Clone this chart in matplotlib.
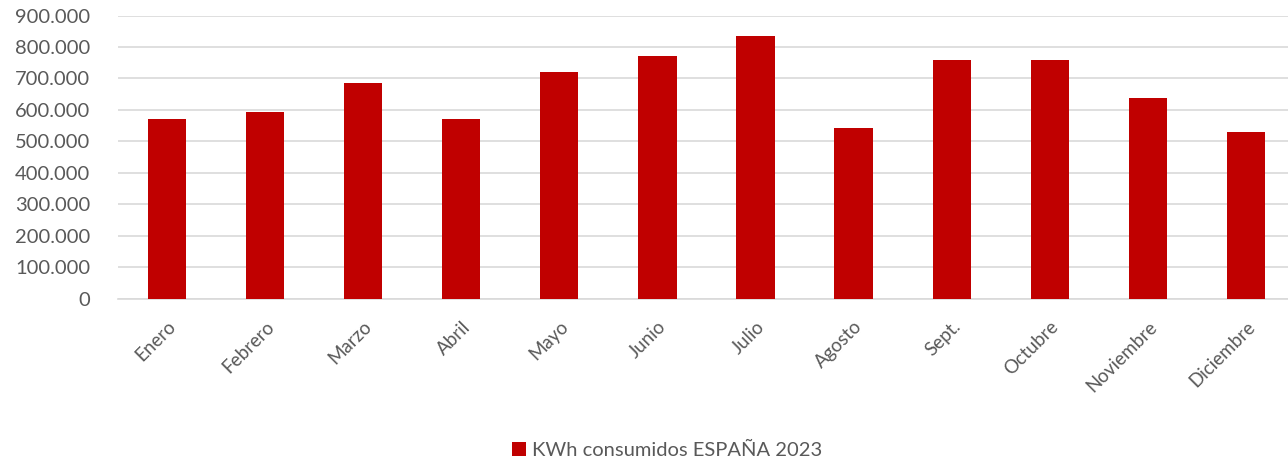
import matplotlib.pyplot as plt
from matplotlib.ticker import FuncFormatter, MultipleLocator
from matplotlib.patches import Patch

MONTHS = ["Enero", "Febrero", "Marzo", "Abril", "Mayo", "Junio", "Julio",
          "Agosto", "Sept.", "Octubre", "Noviembre", "Diciembre"]
KWH_2023 = [571000, 593000, 684000, 571000, 720000, 770000, 834000,
            541000, 760000, 760000, 639000, 530000]
SERIES_LABEL = "KWh consumidos ESPAÑA 2023"

BAR_COLOR = "#C00000"
TEXT_COLOR = "#595959"
GRID_COLOR = "#D9D9D9"

plt.rcParams["font.family"] = ["Lato", "DejaVu Sans"]

fig = plt.figure(figsize=(12.88, 4.67), dpi=100)
ax = fig.add_axes([0.0916, 0.3608, 0.9138, 0.606])

x = range(len(MONTHS))
ax.bar(x, KWH_2023, width=0.39, color=BAR_COLOR, zorder=3)

ax.set_xlim(-0.5, len(MONTHS) - 0.5)
ax.set_ylim(0, 900000)
ax.yaxis.set_major_locator(MultipleLocator(100000))
ax.yaxis.set_major_formatter(FuncFormatter(lambda v, _: f"{int(v):,}".replace(",", ".")))
ax.grid(axis="y", color=GRID_COLOR, linewidth=1.2, zorder=0)

for side in ["top", "right", "left"]:
    ax.spines[side].set_visible(False)
ax.spines["bottom"].set_color(GRID_COLOR)
ax.spines["bottom"].set_linewidth(1.2)

ax.set_xticks(list(x))
ax.set_xticklabels(MONTHS, rotation=45, ha="right", rotation_mode="anchor")
ax.tick_params(axis="x", length=0, colors=TEXT_COLOR, labelsize=13.5, pad=14)
ax.tick_params(axis="y", length=0, colors=TEXT_COLOR, labelsize=14.5, pad=20)

handle = Patch(facecolor=BAR_COLOR, label=SERIES_LABEL)
fig.legend(handles=[handle], loc="center", bbox_to_anchor=(0.518, 0.035),
           frameon=False, fontsize=14.5, labelcolor=TEXT_COLOR,
           handlelength=0.7, handleheight=0.7, handletextpad=0.3)

fig.savefig("out.png", dpi=100)
